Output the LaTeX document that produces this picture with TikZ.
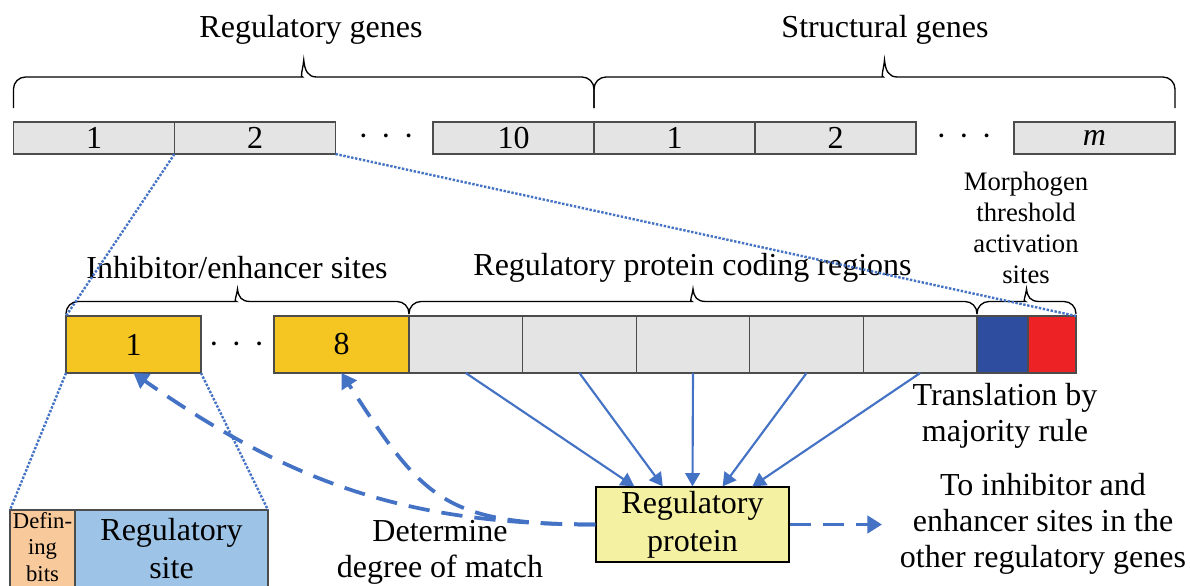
\documentclass[tikz,border=0pt]{standalone}
\usepackage{fontspec}
\setmainfont{Liberation Serif}
\usetikzlibrary{arrows.meta,calc}
\definecolor{genegray}{HTML}{E4E4E4}
\definecolor{sitegold}{HTML}{F5C622}
\definecolor{morphblue}{HTML}{2E4D9E}
\definecolor{morphred}{HTML}{ED2224}
\definecolor{bitsorange}{HTML}{F8C99B}
\definecolor{siteblue}{HTML}{9DC3E6}
\definecolor{protyellow}{HTML}{F5F1A3}
\definecolor{linkblue}{HTML}{4472C4}

% curly brace: x left, x right, y of ends, y of bar, y of tip
\newcommand{\genebrace}[5]{%
  \draw[brc] (#1,#3) [rounded corners=9pt] |- ({(#1+#2)/2-13},#4) [sharp corners]
    .. controls ({(#1+#2)/2-4},#4) and ({(#1+#2)/2-1},{(#4+#5)/2+2}) .. ({(#1+#2)/2},#5)
    .. controls ({(#1+#2)/2+1},{(#4+#5)/2+2}) and ({(#1+#2)/2+4},#4) .. ({(#1+#2)/2+13},#4)
    [rounded corners=9pt] -| (#2,#3);}

\newcommand{\threedots}{\textperiodcentered\hspace{9pt}\textperiodcentered\hspace{9pt}\textperiodcentered}

\begin{document}
\begin{tikzpicture}[
    x=0.75pt, y=-0.75pt,
    font=\fontsize{24}{27}\selectfont,
    gene/.style={draw=black!70, line width=0.8pt, fill=genegray,
                 minimum width=120.75pt, minimum height=24pt,
                 inner sep=0pt, outer sep=0pt},
    site/.style={draw=black!70, line width=0.8pt, minimum height=42.75pt,
                 inner sep=0pt, outer sep=0pt},
    part/.style={draw=black!70, line width=0.8pt, minimum height=58.5pt,
                 inner sep=0pt, outer sep=0pt, align=center},
    brc/.style={black, line width=1pt},
    dots/.style={inner sep=0pt},
    zoomline/.style={linkblue, line width=1.8pt, dash pattern=on 1.8pt off 1.2pt},
    code/.style={-{Triangle[length=10pt, width=11pt]}, linkblue, line width=1.6pt},
    match/.style={-{Triangle[length=11pt, width=13pt]}, linkblue, line width=2.8pt,
                  dash pattern=on 16pt off 9pt},
    lab/.style={align=center},
    smalllab/.style={font=\fontsize{20}{23.3}\selectfont, align=center},
]
\useasboundingbox (0,0) rectangle (1190,586);
\clip (0,0) rectangle (1190,586);

% ---- genome ----
\node[gene] (r1) at (94,138) {1};
\node[gene] (r2) at (255,138) {2};
\node[dots] (rdots) at (386,140) {\threedots};
\node[gene] (r10) at (513.5,138) {10};
\node[gene] (st1) at (674.5,138) {1};
\node[gene] (st2) at (835.5,138) {2};
\node[dots] (stdots) at (964,140) {\threedots};
\node[gene] (stm) at (1094.5,138) {\textit{m}};

\genebrace{13.5}{594}{108}{77}{60}
\genebrace{594}{1175}{108}{77}{60}
\node (regl) at (311,30) {Regulatory genes};
\node (strl) at (885,30) {Structural genes};

% ---- one regulatory gene ----
\node[site, fill=sitegold, minimum width=101.25pt] (s1) at (133.5,344.5) {1};
\node[dots] (sdots) at (236.5,348) {\threedots};
\node[site, fill=sitegold, minimum width=101.25pt] (s8) at (341.5,344.5) {8};
\foreach \i in {1,...,5}
    \node[site, fill=genegray, minimum width=85.2pt] (c\i) at ({409+113.6*(\i-0.5)},344.5) {};
\node[site, fill=morphblue, minimum width=38.25pt] (mb) at (1002.5,344.5) {};
\node[site, fill=morphred, minimum width=36pt] (mr) at (1052,344.5) {};

\genebrace{66}{409}{314}{301.5}{289}
\genebrace{409}{977}{314}{301.5}{289}
\genebrace{977}{1076}{314}{301.5}{289}
\node (inhl) at (237,268) {Inhibitor/enhancer sites};
\node (codl) at (692.5,268) {Regulatory protein coding regions};
\node[smalllab] (morl) at (1026,228) {Morphogen\\threshold\\activation\\sites};

\draw[zoomline] (r2.south west) -- (s1.north west);
\draw[zoomline] (r2.south east) -- (mr.north east);

% ---- one site ----
\node[part, fill=bitsorange, minimum width=48.75pt] (bits) at (42.5,549) {};
\node[font=\fontsize{17}{20}\selectfont, align=center, inner sep=0pt] (bitsl)
    at (42.5,547) {Defin-\\ing\\bits};
\node[part, fill=siteblue, minimum width=144.75pt,
      font=\fontsize{24}{28.5}\selectfont] (rsite) at (171.5,549) {Regulatory\\site};
\draw[zoomline] (s1.south west) -- (bits.north west);
\draw[zoomline] (s1.south east) -- (rsite.north east);

% ---- translation ----
\node[draw=black, line width=0.9pt, fill=protyellow, minimum width=144.75pt,
      minimum height=56.25pt, inner sep=0pt, align=center,
      font=\fontsize{24}{28.5}\selectfont] (prot) at (692.5,524.5) {Regulatory\\protein};
\foreach \i/\f in {1/0.2, 2/0.347, 3/0.5, 4/0.655, 5/0.808}
    \draw[code] (c\i.south) -- ($(prot.north west)!\f!(prot.north east)$);

\draw[match] (prot.west) .. controls +(-190,0) and +(156,109) .. (s1.south);
\draw[match] (prot.west) .. controls +(-151,0) and +(82,127) .. (s8.south);
\coordinate (others) at (882,524.5);
\draw[match] (prot.east) -- (others);

\node[lab] (trl) at (1005,415.5) {Translation by\\majority rule};
\node[lab] (detl) at (440,552) {Determine\\degree of match};
\node[lab] (tol) at (1043,523.5) {To inhibitor and\\enhancer sites in the\\other regulatory genes};
\end{tikzpicture}
\end{document}
